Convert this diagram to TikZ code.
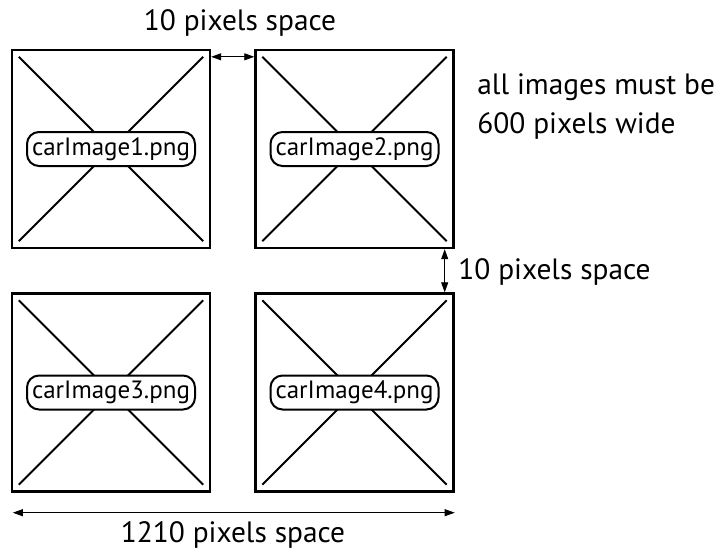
\documentclass[tikz,border=0pt]{standalone}
\usepackage{fontspec}
\setmainfont{PT Sans}
\usetikzlibrary{calc,arrows.meta,positioning}
\tikzset{
    image box/.style={
        draw,line width=1.2pt,
        minimum width=99pt,minimum height=99pt,inner sep=0pt
    },
    file label/.style={
        draw,line width=1pt,rounded corners=6pt,
        fill=white,
        minimum width=84pt,minimum height=17pt,inner sep=1pt,
        font=\fontsize{12.5}{14}\selectfont
    },
    note/.style={
        inner sep=0pt,align=left,
        font=\fontsize{14.7}{19.5}\selectfont
    },
    >={Triangle[length=5pt,width=3.5pt]}
}
\begin{document}
\begin{tikzpicture}[x=0.5pt,y=-0.5pt]
\useasboundingbox (0,0) rectangle (723,554);
\foreach \i/\x/\y in {1/111/149,2/354.5/149,3/111/392.5,4/354.5/392.5} {
    \node[image box] (img\i) at (\x,\y) {};
    \draw[line width=1pt] ($(img\i.north west)+(8,8)$) -- ($(img\i.south east)+(-8,-8)$);
    \draw[line width=1pt] ($(img\i.north east)+(-8,8)$) -- ($(img\i.south west)+(8,-8)$);
    \node[file label] (file\i) at (img\i) {carImage\i.png};
}
\draw[<->,thin] ($(img1.north east)+(0,8)$) -- ($(img2.north west)+(0,8)$);
\draw[<->,thin] ($(img2.south east)+(-10,0)$) -- ($(img4.north east)+(-10,0)$);
\draw[<->,thin] ($(img3.south west)+(2,20)$) -- ($(img4.south east)+(0,20)$);
\node[note] (gapx) at (240,23) {10 pixels space};
\node[note,anchor=west] (gapy) at (458,272) {10 pixels space};
\node[note,anchor=west] (rule) at (477,107) {all images must be\\600 pixels wide};
\node[note] (total) at (233,535) {1210 pixels space};
\end{tikzpicture}
\end{document}
